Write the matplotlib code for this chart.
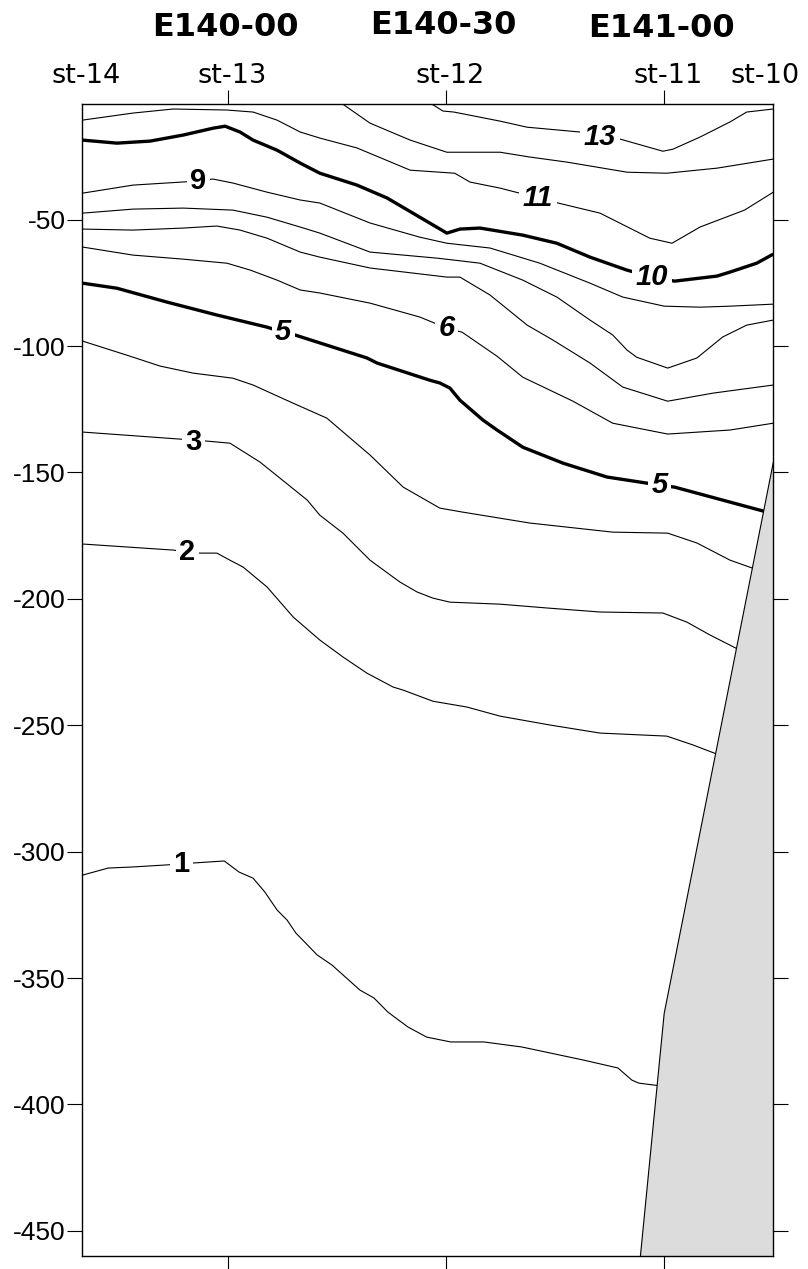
import matplotlib
matplotlib.use("Agg")
import matplotlib.pyplot as plt
from matplotlib.transforms import blended_transform_factory, offset_copy

# ---------------- data ----------------
station_names = ["st-14", "st-13", "st-12", "st-11", "st-10"]
station_lon = [139.6667, 140.0, 140.5, 141.0, 141.25]
lon_labels = ["E140-00", "E140-30", "E141-00"]
lon_label_pos = [140.0, 140.5, 141.0]
ytick_vals = [-50, -100, -150, -200, -250, -300, -350, -400, -450]
ytick_text = ["-50", "-100", "-150", "-200", "-250", "-300", "-350", "-400", "-450"]

# isotherm depths (m) read along longitude (deg E)
lon_13 = [140.456, 140.493, 140.518, 140.624, 140.686, 140.807, 140.853, 140.899, 140.997, 141.020, 141.082, 141.151, 141.189, 141.25]
dep_13 = [-3.0, -7.0, -7.4, -11.0, -13.4, -15.3, -17.3, -18.1, -22.9, -22.1, -17.3, -11.3, -7.4, -6.2]

lon_12 = [140.253, 140.326, 140.418, 140.502, 140.624, 140.692, 140.777, 140.915, 141.006, 141.121, 141.25]
dep_12 = [-3.0, -11.8, -18.5, -23.3, -23.3, -25.2, -27.2, -31.2, -31.6, -29.6, -26.0]

lon_11 = [139.667, 139.783, 139.875, 139.998, 140.058, 140.113, 140.166, 140.211, 140.296, 140.418, 140.520,
          140.555, 140.624, 140.669, 140.711, 140.757, 140.853, 140.967, 141.018, 141.082, 141.184, 141.25]
dep_11 = [-10.6, -7.8, -6.2, -6.6, -7.4, -10.6, -15.3, -17.7, -21.6, -30.4, -31.6,
          -35.1, -37.5, -39.5, -41.4, -43.4, -47.4, -57.3, -59.3, -52.9, -46.2, -39.1]

lon_10 = [139.667, 139.746, 139.822, 139.898, 139.966, 139.994, 140.028, 140.058, 140.113, 140.166, 140.211,
          140.296, 140.365, 140.440, 140.502, 140.532, 140.578, 140.676, 140.754, 140.830, 140.914, 140.972,
          141.024, 141.121, 141.151, 141.212, 141.25]
dep_10 = [-18.5, -19.7, -18.9, -16.5, -13.8, -13.0, -15.3, -18.5, -22.5, -27.6, -31.6,
          -36.3, -41.4, -49.0, -55.3, -53.7, -53.3, -56.1, -59.3, -64.8, -69.9, -72.7,
          -74.3, -72.3, -70.7, -67.2, -63.6]

lon_9 = [139.667, 139.783, 139.932, 139.966, 140.012, 140.090, 140.166, 140.211, 140.326, 140.440, 140.502,
         140.601, 140.715, 140.830, 140.905, 141.0, 141.082, 141.151, 141.25]
dep_9 = [-39.5, -36.3, -34.7, -33.9, -35.5, -39.1, -42.2, -43.4, -51.3, -56.9, -59.3,
         -61.2, -67.2, -75.1, -80.6, -84.2, -84.6, -84.2, -83.4]

lon_8 = [139.667, 139.783, 139.898, 140.012, 140.090, 140.166, 140.211, 140.326, 140.479, 140.520, 140.578,
         140.676, 140.754, 140.830, 140.882, 140.915, 140.937, 141.008, 141.075, 141.134, 141.189, 141.25]
dep_8 = [-47.4, -45.8, -45.4, -46.2, -49.0, -52.9, -55.3, -62.8, -65.2, -66.0, -67.2,
         -73.9, -80.6, -89.7, -95.6, -101.6, -104.4, -108.7, -104.7, -96.4, -91.7, -89.7]

lon_7 = [139.667, 139.783, 139.898, 139.975, 140.028, 140.090, 140.166, 140.211, 140.326, 140.502, 140.532,
         140.601, 140.686, 140.745, 140.830, 140.905, 141.008, 141.112, 141.25]
dep_7 = [-53.7, -54.1, -53.3, -52.5, -54.1, -57.3, -62.8, -64.8, -69.1, -72.7, -72.7,
         -79.8, -91.7, -97.6, -106.7, -116.2, -121.8, -118.6, -115.4]

lon_6 = [139.667, 139.783, 139.898, 139.998, 140.051, 140.113, 140.166, 140.211, 140.326, 140.440, 140.502,
         140.537, 140.617, 140.676, 140.791, 140.882, 141.008, 141.151, 141.25]
dep_6 = [-60.8, -64.0, -65.6, -67.2, -69.9, -73.9, -77.8, -79.0, -83.0, -88.5, -92.9,
         -94.5, -104.0, -112.3, -121.8, -130.5, -134.8, -133.2, -130.5]

lon_5 = [139.667, 139.746, 139.861, 139.975, 140.090, 140.127, 140.154, 140.319, 140.342, 140.463, 140.486,
         140.509, 140.532, 140.585, 140.617, 140.676, 140.768, 140.869, 140.990, 141.024, 141.232]
dep_5 = [-75.1, -77.1, -82.6, -87.7, -92.5, -94.5, -95.6, -104.7, -106.7, -113.5, -114.6,
         -116.6, -121.4, -129.3, -133.2, -140.0, -146.3, -151.8, -155.0, -155.8, -165.5]

lon_4 = [139.667, 139.769, 139.845, 139.921, 140.012, 140.058, 140.150, 140.227, 140.326, 140.402, 140.486,
         140.539, 140.692, 140.882, 141.008, 141.075, 141.151, 141.205]
dep_4 = [-98.0, -103.6, -107.9, -110.7, -112.7, -115.4, -122.6, -128.5, -143.1, -155.8, -164.1,
         -165.7, -170.0, -173.6, -174.0, -177.9, -184.7, -188.0]

lon_3 = [139.667, 139.891, 139.953, 140.005, 140.074, 140.182, 140.211, 140.264, 140.326, 140.379, 140.395,
         140.434, 140.470, 140.509, 140.624, 140.738, 140.853, 140.997, 141.052, 141.105, 141.170]
dep_3 = [-134.0, -136.8, -137.6, -138.4, -145.9, -160.9, -166.9, -174.0, -184.7, -191.4, -193.4,
         -197.3, -199.7, -201.3, -202.1, -203.7, -205.2, -205.6, -209.2, -214.3, -220.0]

lon_2 = [139.667, 139.875, 139.907, 139.937, 139.975, 140.005, 140.035, 140.090, 140.150, 140.211, 140.264,
         140.319, 140.379, 140.402, 140.470, 140.548, 140.624, 140.738, 140.853, 141.006, 141.066, 141.122]
dep_2 = [-178.3, -180.7, -181.5, -181.9, -181.9, -184.7, -187.4, -195.3, -207.2, -216.3, -223.0,
         -229.4, -234.9, -236.1, -240.5, -242.8, -246.4, -249.9, -253.1, -254.3, -257.8, -261.5]

lon_1 = [139.667, 139.726, 139.779, 139.856, 139.893, 139.921, 139.992, 140.026, 140.058, 140.085, 140.113,
         140.136, 140.156, 140.205, 140.239, 140.303, 140.335, 140.367, 140.413, 140.456, 140.511, 140.587,
         140.674, 140.816, 140.894, 140.926, 140.942, 140.988]
dep_1 = [-309.3, -306.5, -306.1, -305.3, -304.9, -304.5, -303.7, -308.1, -310.5, -316.0, -323.1,
         -327.1, -332.2, -340.9, -344.9, -354.8, -357.9, -363.5, -369.4, -373.4, -375.3, -375.3,
         -377.3, -382.5, -385.6, -390.4, -391.6, -392.6]

levels = [13, 12, 11, 10, 9, 8, 7, 6, 5, 4, 3, 2, 1]
iso_lons = [lon_13, lon_12, lon_11, lon_10, lon_9, lon_8, lon_7, lon_6, lon_5, lon_4, lon_3, lon_2, lon_1]
iso_deps = [dep_13, dep_12, dep_11, dep_10, dep_9, dep_8, dep_7, dep_6, dep_5, dep_4, dep_3, dep_2, dep_1]

# bottom topography (slope)
bottom_lon = [141.25, 141.0, 140.92]
bottom_dep = [-146.0, -364.0, -505.0]

# contour labels
label_text = ["13", "11", "10", "9", "6", "5", "5", "3", "2", "1"]
label_lon = [140.853, 140.711, 140.972, 139.932, 140.502, 140.127, 140.990, 139.921, 139.907, 139.893]
label_dep = [-17.3, -41.4, -72.7, -34.7, -92.9, -94.5, -155.0, -138.0, -181.5, -304.9]
label_italic = [True, True, True, False, True, True, True, False, False, False]

# ---------------- figure ----------------
fig = plt.figure(figsize=(8.08, 12.69), dpi=100)
ax = fig.add_axes([0.10186, 0.01001, 0.85519, 0.90827])
xmin, xmax = 139.6667, 141.25
ax.set_xlim(xmin, xmax)
ax.set_ylim(-460.1, -4.1)

for lev, lo, de in zip(levels, iso_lons, iso_deps):
    bold = (lev % 5 == 0)
    ax.plot(lo, de, color="black", lw=2.4 if bold else 0.8, zorder=2,
            solid_joinstyle="round", solid_capstyle="butt")

ax.fill_betweenx(bottom_dep, bottom_lon, xmax, facecolor="#dcdcdc", edgecolor="none", zorder=3)
ax.plot(bottom_lon, bottom_dep, color="black", lw=0.8, zorder=4)

for t, lo, de, it in zip(label_text, label_lon, label_dep, label_italic):
    ax.text(lo, de, t, ha="center", va="center", fontsize=21, fontweight="bold",
            fontstyle="italic" if it else "normal", family="Liberation Sans",
            bbox=dict(boxstyle="square,pad=0.12", fc="white", ec="none"), zorder=5)

# axes styling
for s in ax.spines.values():
    s.set_linewidth(1.0)
    s.set_zorder(6)

ax.set_yticks(ytick_vals)
ax.set_yticklabels(ytick_text, family="Liberation Sans", fontsize=19)
ax.tick_params(axis="y", direction="out", length=11, width=0.8, left=True, right=True,
               labelleft=True, labelright=False, pad=1)
ax.set_xticks(station_lon[1:4])
ax.tick_params(axis="x", direction="out", length=10, width=0.8, top=True, bottom=True,
               labelbottom=False, labeltop=False)

trans = blended_transform_factory(ax.transData, ax.transAxes)
st_dx = [3, 3, 3, 3, -6]
for name, lo, dx in zip(station_names, station_lon, st_dx):
    tr = offset_copy(trans, fig=fig, x=dx, y=15, units="points")
    ax.text(lo, 1.0, name, transform=tr, ha="center", va="baseline",
            fontsize=19.5, family="DejaVu Sans", clip_on=False)

e_dy = [48.6, 50.0, 47.9]
for name, lo, dy in zip(lon_labels, lon_label_pos, e_dy):
    tr = offset_copy(trans, fig=fig, x=-2, y=dy, units="points")
    ax.text(lo, 1.0, name, transform=tr, ha="center", va="baseline",
            fontsize=23, fontweight="bold", family="DejaVu Sans", clip_on=False)

fig.savefig("out.png", dpi=100)
